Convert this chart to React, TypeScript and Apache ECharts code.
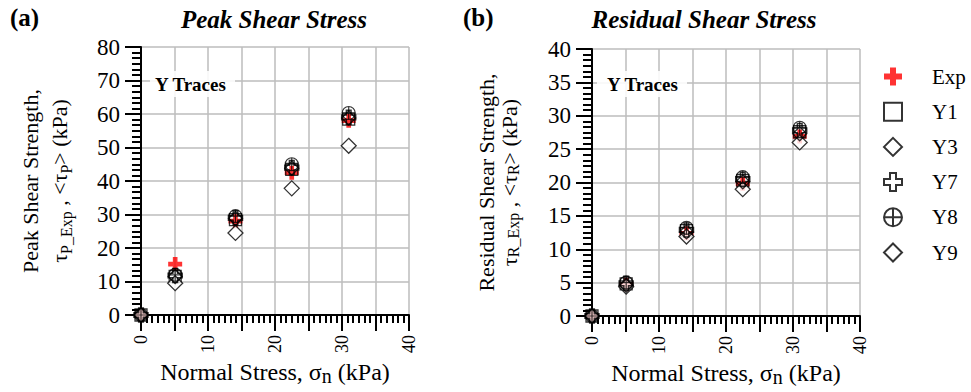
import React, { useEffect, useRef } from 'react';
import * as echarts from 'echarts';

// ---------- data ----------
const normalStress = [0, 5.1, 14.1, 22.5, 31.0];
const traceNames = ['Exp', 'Y1', 'Y3', 'Y7', 'Y8', 'Y9'];

const peakExp = [0, 15.2, 28, 42.5, 58];
const peakY1 = [0, 11.5, 28.5, 43.5, 58.5];
const peakY3 = [0, 9.5, 24.5, 37.8, 50.5];
const peakY7 = [0, 11.8, 29, 44, 59];
const peakY8 = [0, 12, 29.5, 45, 60.3];
const peakY9 = [0, 11.5, 28.8, 43.8, 58.8];

const resExp = [0, 4.7, 12.4, 19.8, 26.9];
const resY1 = [0, 4.8, 12.8, 20.3, 27.6];
const resY3 = [0, 4.4, 11.9, 19.0, 26.0];
const resY7 = [0, 4.9, 12.9, 20.5, 27.8];
const resY8 = [0, 5.0, 13.2, 20.8, 28.2];
const resY9 = [0, 4.6, 12.6, 20.1, 27.3];

const peakSeries = [peakExp, peakY1, peakY3, peakY7, peakY8, peakY9];
const resSeries = [resExp, resY1, resY3, resY7, resY8, resY9];

const xTickLabels = [0, 10, 20, 30, 40];

// ---------- styles ----------
const FONT = "'Liberation Serif', 'Times New Roman', serif";
const PLUS = 'path://M4,0H8V4H12V8H8V12H4V8H0V4H4Z';
const CIRCLE_CROSS = 'path://M0,10A10,10,0,1,1,20,10A10,10,0,1,1,0,10ZM10,0V20M0,10H20';

const markerStyles = [
  { symbol: PLUS, size: 14, itemStyle: { color: '#ff0000', borderWidth: 0 }, z: 1 },
  { symbol: 'rect', size: 12, itemStyle: { color: 'rgba(255,255,255,0)', borderColor: '#000', borderWidth: 1.3 }, z: 2 },
  { symbol: 'diamond', size: 15, itemStyle: { color: '#fff', borderColor: '#000', borderWidth: 1.3 }, z: 2 },
  { symbol: PLUS, size: 14, itemStyle: { color: 'rgba(255,255,255,0)', borderColor: '#000', borderWidth: 1.5 }, z: 2 },
  { symbol: CIRCLE_CROSS, size: 13, itemStyle: { color: 'rgba(255,255,255,0)', borderColor: '#000', borderWidth: 1.2 }, z: 2 },
  { symbol: 'diamond', size: 14, itemStyle: { color: 'rgba(255,255,255,0)', borderColor: '#000', borderWidth: 1.3 }, z: 2 },
];

function richName(lh: number) {
  return {
    t: { fontFamily: FONT, fontSize: 22, color: '#000', lineHeight: lh, verticalAlign: 'middle' as const },
    s: { fontFamily: FONT, fontSize: 16, color: '#000', lineHeight: 16, verticalAlign: 'bottom' as const, padding: [8, 0, 0, 0] },
  };
}
const richX = {
  t: { fontFamily: FONT, fontSize: 24, color: '#000', lineHeight: 28, verticalAlign: 'middle' as const },
  s: { fontFamily: FONT, fontSize: 20, color: '#000', lineHeight: 18, verticalAlign: 'bottom' as const, padding: [10, 0, 0, 0] },
};

function axisLine() {
  return { show: true, onZero: false, lineStyle: { color: '#000000', width: 2 } };
}
function axisTick() {
  return { show: true, inside: false, length: 16, lineStyle: { color: '#000000', width: 2 } };
}
function minorTick(len: number) {
  return { show: true, splitNumber: 6, length: len, lineStyle: { color: '#000000', width: 2 } };
}
function splitLine() {
  return { show: true, lineStyle: { color: '#bdbdbd', width: 1.5 } };
}

function makeX(gridIndex: number) {
  return {
    type: 'value',
    gridIndex,
    min: 0,
    max: 40,
    interval: 5,
    name: '{t|Normal Stress, σ}{s|n}{t| (kPa)}',
    nameLocation: 'middle',
    nameGap: 43,
    nameMoveOverlap: false,
    nameTextStyle: { rich: richX },
    axisLine: axisLine(),
    axisTick: axisTick(),
    minorTick: minorTick(8),
    minorSplitLine: { show: false },
    axisLabel: {
      show: true,
      rotate: 90,
      margin: 20,
      fontSize: 18,
      fontFamily: FONT,
      color: '#000',
      formatter: (v: number) => (xTickLabels.indexOf(v) >= 0 ? String(v) : ''),
    },
    splitLine: splitLine(),
  };
}

function makeY(gridIndex: number, max: number, interval: number, name: string, nameGap: number, lh: number) {
  return {
    type: 'value',
    gridIndex,
    min: 0,
    max,
    interval,
    name,
    nameLocation: 'middle',
    nameGap,
    nameMoveOverlap: false,
    nameTextStyle: { rich: richName(lh) },
    axisLine: axisLine(),
    axisTick: axisTick(),
    minorTick: minorTick(9),
    axisLabel: { show: true, margin: 21, fontSize: 23, fontFamily: FONT, color: '#000' },
    splitLine: splitLine(),
  };
}

function makeSeries(values: number[][], idx: number) {
  return traceNames.map((name, i) => ({
    type: 'scatter',
    name,
    xAxisIndex: idx,
    yAxisIndex: idx,
    symbol: markerStyles[i].symbol,
    symbolSize: markerStyles[i].size,
    itemStyle: markerStyles[i].itemStyle,
    z: markerStyles[i].z,
    data: normalStress.map((x, k) => [x, values[i][k]]),
  }));
}

export default function App() {
  const ref = useRef<HTMLDivElement>(null);
  useEffect(() => {
    if (!ref.current) return;
    const chart = echarts.init(ref.current, null, { renderer: 'svg' });
    const option = {
      animation: false,
      backgroundColor: '#fff',
      textStyle: { fontFamily: FONT },
      grid: [
        { left: 141, top: 47, width: 268, height: 268, containLabel: false, outerBoundsMode: 'none' },
        { left: 592, top: 49, width: 268, height: 267, containLabel: false, outerBoundsMode: 'none' },
      ],
      xAxis: [makeX(0), makeX(1)],
      yAxis: [
        makeY(0, 80, 10, '{t|Peak Shear Strength,}\n{t|τ}{s|P_Exp}{t| , <τ}{s|P}{t|> (kPa)}', 67, 29),
        makeY(1, 40, 5, '{t|Residual Shear Strength,}\n{t|τ}{s|R_Exp}{t| , <τ}{s|R}{t|> (kPa)}', 71, 23),
      ],
      legend: {
        orient: 'vertical',
        left: 878,
        top: 61,
        itemWidth: 18,
        itemHeight: 18,
        itemGap: 14.2,
        data: traceNames,
        selectedMode: false,
        textStyle: { fontFamily: FONT, fontSize: 21, color: '#000', padding: [0, 0, 0, 25] },
      },
      graphic: [
        { type: 'text', left: 10, top: 5, style: { text: '(a)', font: `bold 25px ${FONT}`, fill: '#000' } },
        { type: 'text', left: 463, top: 5, style: { text: '(b)', font: `bold 25px ${FONT}`, fill: '#000' } },
        { type: 'text', x: 274, y: 19, style: { text: 'Peak Shear Stress', font: `italic bold 25px ${FONT}`, fill: '#000', align: 'center', verticalAlign: 'middle' } },
        { type: 'text', x: 704, y: 19, style: { text: 'Residual Shear Stress', font: `italic bold 25px ${FONT}`, fill: '#000', align: 'center', verticalAlign: 'middle' } },
        { type: 'rect', shape: { x: 150, y: 71, width: 85, height: 26 }, style: { fill: 'rgba(255,255,255,0.88)' }, z: 5 },
        { type: 'text', x: 155, y: 84, z: 6, style: { text: 'Y Traces', font: `bold 19px ${FONT}`, fill: '#000', verticalAlign: 'middle' } },
        { type: 'rect', shape: { x: 597, y: 71, width: 90, height: 26 }, style: { fill: 'rgba(255,255,255,0.88)' }, z: 5 },
        { type: 'text', x: 607, y: 84, z: 6, style: { text: 'Y Traces', font: `bold 19px ${FONT}`, fill: '#000', verticalAlign: 'middle' } },
      ],
      series: [...makeSeries(peakSeries, 0), ...makeSeries(resSeries, 1)],
    };
    chart.setOption(option as any);
    return () => chart.dispose();
  }, []);
  return <div ref={ref} style={{ position: 'fixed', left: 0, top: 0, width: 971, height: 392 }} />;
}
